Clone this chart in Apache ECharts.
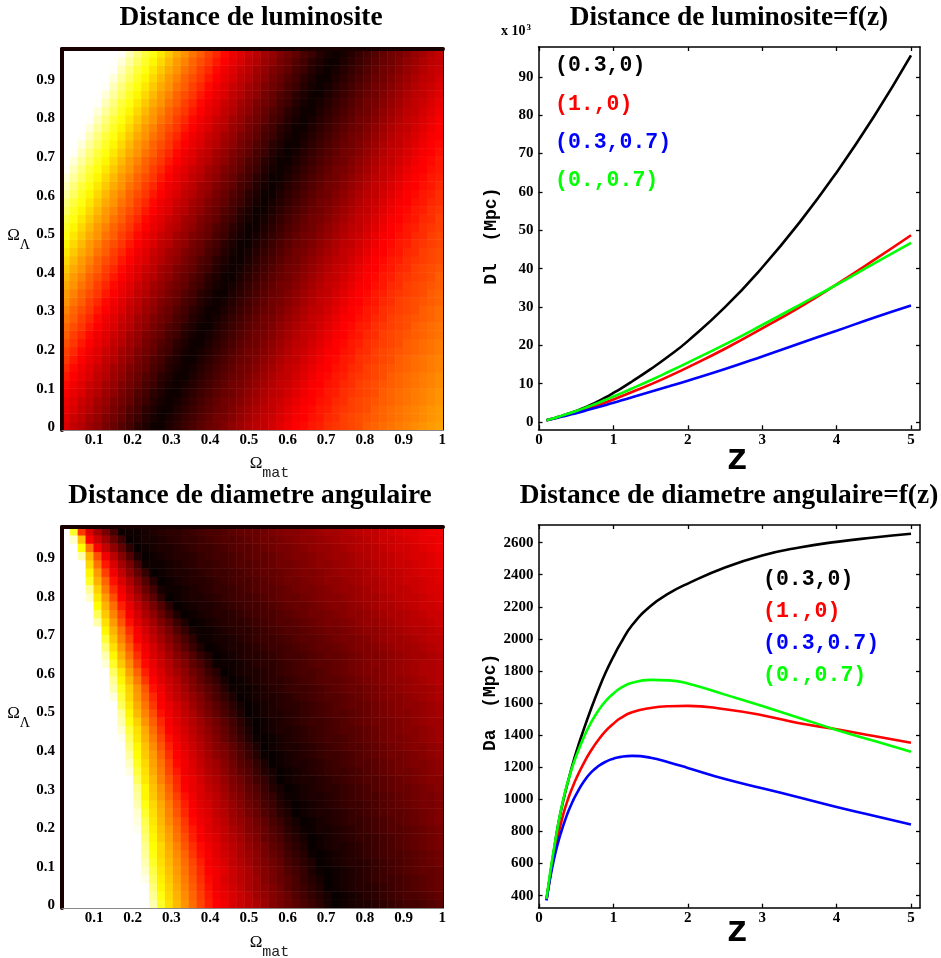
<!DOCTYPE html>
<html><head><meta charset="utf-8"><style>html,body{margin:0;background:#fff}#c{width:941px;height:958px}</style>
<script src="https://cdn.jsdelivr.net/npm/echarts@6/dist/echarts.min.js"></script></head><body><div id="c"></div>
<script>
// heat values, 0-99 on the hot colour scale; bottom row first
const lumGrid=[
[28,25,23,20,18,15,13,10,8,5,3,1,1,3,5,7,9,11,13,14,16,18,20,22,24,25,27,29,31,33,34,36,37,39,40,41,42,43,45,46,47,48,49,50,51,52,53,54],
[29,26,24,21,19,16,14,12,9,7,4,2,1,2,4,6,8,10,12,14,15,17,19,21,23,25,26,28,30,32,33,35,36,38,39,41,42,43,44,45,46,47,48,49,50,51,52,53],
[30,28,25,23,20,18,15,13,10,8,5,3,1,1,3,5,7,9,11,13,14,16,18,20,22,24,25,27,29,31,33,34,36,37,39,40,41,42,43,45,46,47,48,49,50,51,52,53],
[31,29,26,24,21,19,16,14,12,9,7,4,2,1,2,4,6,8,10,12,14,15,17,19,21,23,25,26,28,30,32,33,35,36,38,39,41,42,43,44,45,46,47,48,49,50,51,52],
[33,30,28,25,23,20,18,15,13,10,8,5,3,1,1,3,5,7,9,11,13,14,16,18,20,22,24,25,27,29,31,33,34,36,37,39,40,41,42,43,45,46,47,48,49,50,51,52],
[34,31,29,26,24,21,19,16,14,12,9,7,4,2,1,2,4,6,8,10,12,14,15,17,19,21,23,25,26,28,30,32,33,35,36,38,39,41,42,43,44,45,46,47,48,49,50,51],
[36,33,30,28,25,23,20,18,15,13,10,8,5,3,1,1,3,5,7,9,11,13,14,16,18,20,22,24,25,27,29,31,33,34,36,37,39,40,41,42,43,45,46,47,48,49,50,51],
[38,34,31,29,26,24,21,19,16,14,12,9,7,4,2,1,2,4,6,8,10,12,14,15,17,19,21,23,25,26,28,30,32,33,35,36,38,39,41,42,43,44,45,46,47,48,49,50],
[40,36,33,30,28,25,23,20,18,15,13,10,8,5,3,1,1,3,5,7,9,11,13,14,16,18,20,22,24,25,27,29,31,33,34,36,37,39,40,41,42,43,45,46,47,48,49,50],
[41,38,34,31,29,26,24,21,19,16,14,12,9,7,4,2,1,2,4,6,8,10,12,14,15,17,19,21,23,25,26,28,30,32,33,35,36,38,39,41,42,43,44,45,46,47,48,49],
[43,40,36,33,30,28,25,23,20,18,15,13,10,8,5,3,1,1,3,5,7,9,11,13,14,16,18,20,22,24,25,27,29,31,33,34,36,37,39,40,41,42,43,45,46,47,48,49],
[45,41,38,34,31,29,26,24,21,19,16,14,12,9,7,4,2,1,2,4,6,8,10,12,14,15,17,19,21,23,25,26,28,30,32,33,35,36,38,39,41,42,43,44,45,46,47,48],
[46,43,40,36,33,30,28,25,23,20,18,15,13,10,8,5,3,1,1,3,5,7,9,11,13,14,16,18,20,22,24,25,27,29,31,33,34,36,37,39,40,41,42,43,45,46,47,48],
[48,45,41,38,34,31,29,26,24,21,19,16,14,12,9,7,4,2,1,2,4,6,8,10,12,14,15,17,19,21,23,25,26,28,30,32,33,35,36,38,39,41,42,43,44,45,46,47],
[50,46,43,40,36,33,30,28,25,23,20,18,15,13,10,8,5,3,1,1,3,5,7,9,11,13,14,16,18,20,22,24,25,27,29,31,33,34,36,37,39,40,41,42,43,45,46,47],
[52,48,45,41,38,34,31,29,26,24,21,19,16,14,12,9,7,4,2,1,2,4,6,8,10,12,14,15,17,19,21,23,25,26,28,30,32,33,35,36,38,39,41,42,43,44,45,46],
[53,50,46,43,40,36,33,30,28,25,23,20,18,15,13,10,8,5,3,1,1,3,5,7,9,11,13,14,16,18,20,22,24,25,27,29,31,33,34,36,37,39,40,41,42,43,45,46],
[55,52,48,45,41,38,34,31,29,26,24,21,19,16,14,12,9,7,4,2,1,2,4,6,8,10,12,14,15,17,19,21,23,25,26,28,30,32,33,35,36,38,39,41,42,43,44,45],
[57,53,50,46,43,40,36,33,30,28,25,23,20,18,15,13,10,8,5,3,1,1,3,5,7,9,11,13,14,16,18,20,22,24,25,27,29,31,33,34,36,37,39,40,41,42,43,45],
[59,55,52,48,45,41,38,34,31,29,26,24,21,19,16,14,12,9,7,4,2,1,2,4,6,8,10,12,14,15,17,19,21,23,25,26,28,30,32,33,35,36,38,39,41,42,43,44],
[61,57,53,50,46,43,40,36,33,30,28,25,23,20,18,15,13,10,8,5,3,1,1,3,5,7,9,11,13,14,16,18,20,22,24,25,27,29,31,33,34,36,37,39,40,41,42,43],
[63,59,55,52,48,45,41,38,34,31,29,26,24,21,19,16,14,12,9,7,4,2,1,2,4,6,8,10,12,14,15,17,19,21,23,25,26,28,30,32,33,35,36,38,39,41,42,43],
[65,61,57,53,50,46,43,40,36,33,30,28,25,23,20,18,15,13,10,8,5,3,1,1,3,5,7,9,11,13,14,16,18,20,22,24,25,27,29,31,33,34,36,37,39,40,41,42],
[68,63,59,55,52,48,45,41,38,34,31,29,26,24,21,19,16,14,12,9,7,4,2,1,2,4,6,8,10,12,14,15,17,19,21,23,25,26,28,30,32,33,35,36,38,39,41,42],
[71,65,61,57,53,50,46,43,40,36,33,30,28,25,23,20,18,15,13,10,8,5,3,1,1,3,5,7,9,11,13,14,16,18,20,22,24,25,27,29,31,33,34,36,37,39,40,41],
[74,68,63,59,55,52,48,45,41,38,34,31,29,26,24,21,19,16,14,12,9,7,4,2,1,2,4,6,8,10,12,14,15,17,19,21,23,25,26,28,30,32,33,35,36,38,39,41],
[79,71,65,61,57,53,50,46,43,40,36,33,30,28,25,23,20,18,15,13,10,8,5,3,1,1,3,5,7,9,11,13,14,16,18,20,22,24,25,27,29,31,33,34,36,37,39,40],
[82,74,68,63,59,55,52,48,45,41,38,34,31,29,26,24,21,19,16,14,12,9,7,4,2,1,2,4,6,8,10,12,14,15,17,19,21,23,25,26,28,30,32,33,35,36,38,39],
[86,79,71,65,61,57,53,50,46,43,40,36,33,30,28,25,23,20,18,15,13,10,8,5,3,1,1,3,5,7,9,11,13,14,16,18,20,22,24,25,27,29,31,33,34,36,37,39],
[90,82,74,68,63,59,55,52,48,45,41,38,34,31,29,26,24,21,19,16,14,12,9,7,4,2,1,2,4,6,8,10,12,14,15,17,19,21,23,25,26,28,30,32,33,35,36,38],
[94,86,79,71,65,61,57,53,50,46,43,40,36,33,30,28,25,23,20,18,15,13,10,8,5,3,1,1,3,5,7,9,11,13,14,16,18,20,22,24,25,27,29,31,33,34,36,37],
[98,90,82,74,68,63,59,55,52,48,45,41,38,34,31,29,26,24,21,19,16,14,12,9,7,4,2,1,2,4,6,8,10,12,14,15,17,19,21,23,25,26,28,30,32,33,35,36],
[99,94,86,79,71,65,61,57,53,50,46,43,40,36,33,30,28,25,23,20,18,15,13,10,8,5,3,1,1,3,5,7,9,11,13,14,16,18,20,22,24,25,27,29,31,33,34,36],
[99,98,90,82,74,68,63,59,55,52,48,45,41,38,34,31,29,26,24,21,19,16,14,12,9,7,4,2,1,2,4,6,8,10,12,14,15,17,19,21,23,25,26,28,30,32,33,35],
[99,99,94,86,79,71,65,61,57,53,50,46,43,40,36,33,30,28,25,23,20,18,15,13,10,8,5,3,1,1,3,5,7,9,11,13,14,16,18,20,22,24,25,27,29,31,33,34],
[99,99,98,90,82,74,68,63,59,55,52,48,45,41,38,34,31,29,26,24,21,19,16,14,12,9,7,4,2,1,2,4,6,8,10,12,14,15,17,19,21,23,25,26,28,30,32,33],
[99,99,99,94,86,79,71,65,61,57,53,50,46,43,40,36,33,30,28,25,23,20,18,15,13,10,8,5,3,1,1,3,5,7,9,11,13,14,16,18,20,22,24,25,27,29,31,33],
[99,99,99,98,90,82,74,68,63,59,55,52,48,45,41,38,34,31,29,26,24,21,19,16,14,12,9,7,4,2,1,2,4,6,8,10,12,14,15,17,19,21,23,25,26,28,30,32],
[99,99,99,99,94,86,79,71,65,61,57,53,50,46,43,40,36,33,30,28,25,23,20,18,15,13,10,8,5,3,1,1,3,5,7,9,11,13,14,16,18,20,22,24,25,27,29,31],
[99,99,99,99,98,90,82,74,68,63,59,55,52,48,45,41,38,34,31,29,26,24,21,19,16,14,12,9,7,4,2,1,2,4,6,8,10,12,14,15,17,19,21,23,25,26,28,30],
[99,99,99,99,99,94,86,79,71,65,61,57,53,50,46,43,40,36,33,30,28,25,23,20,18,15,13,10,8,5,3,1,1,3,5,7,9,11,13,14,16,18,20,22,24,25,27,29],
[99,99,99,99,99,98,90,82,74,68,63,59,55,52,48,45,41,38,34,31,29,26,24,21,19,16,14,12,9,7,4,2,1,2,4,6,8,10,12,14,15,17,19,21,23,25,26,28],
[99,99,99,99,99,99,94,86,79,71,65,61,57,53,50,46,43,40,36,33,30,28,25,23,20,18,15,13,10,8,5,3,1,1,3,5,7,9,11,13,14,16,18,20,22,24,25,27],
[99,99,99,99,99,99,98,90,82,74,68,63,59,55,52,48,45,41,38,34,31,29,26,24,21,19,16,14,12,9,7,4,2,1,2,4,6,8,10,12,14,15,17,19,21,23,25,26],
[99,99,99,99,99,99,99,94,86,79,71,65,61,57,53,50,46,43,40,36,33,30,28,25,23,20,18,15,13,10,8,5,3,1,1,3,5,7,9,11,13,14,16,18,20,22,24,25],
[99,99,99,99,99,99,99,98,90,82,74,68,63,59,55,52,48,45,41,38,34,31,29,26,24,21,19,16,14,12,9,7,4,2,1,2,4,6,8,10,12,14,15,17,19,21,23,25]
];
const angGrid=[
[99,99,99,99,99,99,99,99,99,99,99,89,71,62,57,52,47,42,37,33,31,28,26,24,22,20,17,15,13,11,9,7,5,2,0,1,2,3,3,4,5,6,7,8,8,9,10,11],
[99,99,99,99,99,99,99,99,99,99,99,85,68,61,56,51,46,41,36,32,30,28,26,24,21,19,17,15,13,10,8,6,4,2,0,1,2,3,4,5,6,7,8,9,9,10,11,12],
[99,99,99,99,99,99,99,99,99,99,99,82,65,60,55,50,45,40,35,31,29,27,25,22,20,18,16,14,11,9,7,5,3,0,1,2,3,4,4,5,6,7,8,9,10,11,12,13],
[99,99,99,99,99,99,99,99,99,99,96,78,64,59,54,49,44,39,34,31,28,26,24,22,20,17,15,13,11,9,6,4,2,0,1,2,3,4,5,6,7,7,8,9,10,11,12,13],
[99,99,99,99,99,99,99,99,99,99,92,75,63,58,53,48,43,38,33,31,29,26,24,22,19,17,15,13,10,8,6,3,1,0,1,2,3,4,5,6,7,8,9,10,11,12,12,13],
[99,99,99,99,99,99,99,99,99,99,89,71,62,57,52,47,42,37,32,30,28,25,23,21,18,16,14,12,9,7,5,3,0,1,2,3,4,4,5,6,7,8,9,10,11,12,13,14],
[99,99,99,99,99,99,99,99,99,99,86,68,61,56,51,46,40,35,32,29,27,25,22,20,18,15,13,11,8,6,4,1,0,1,2,3,4,5,6,7,8,9,9,10,11,12,13,14],
[99,99,99,99,99,99,99,99,99,99,84,66,61,55,50,44,39,34,31,29,26,24,22,19,17,15,12,10,7,5,3,0,1,2,3,3,4,5,6,7,8,9,10,11,12,13,14,15],
[99,99,99,99,99,99,99,99,99,99,81,65,59,54,48,43,37,32,30,28,25,23,21,18,16,13,11,9,6,4,2,0,1,2,3,4,5,6,6,7,8,9,10,11,12,13,14,15],
[99,99,99,99,99,99,99,99,99,97,78,64,58,53,47,41,36,32,29,27,25,22,20,17,15,13,10,8,5,3,1,1,2,2,3,4,5,6,7,8,9,10,10,11,12,13,14,15],
[99,99,99,99,99,99,99,99,99,95,76,63,57,51,46,40,34,31,29,26,24,21,19,17,14,12,9,7,4,2,0,1,2,3,4,5,6,6,7,8,9,10,11,12,13,14,15,16],
[99,99,99,99,99,99,99,99,99,93,72,62,56,50,44,38,33,30,28,25,23,20,18,15,13,10,8,5,3,0,1,2,3,3,4,5,6,7,8,9,10,11,11,12,13,14,15,16],
[99,99,99,99,99,99,99,99,99,89,68,61,55,49,43,37,32,29,27,24,22,19,17,14,12,9,7,4,2,0,1,2,3,4,5,6,7,7,8,9,10,11,12,13,14,15,15,16],
[99,99,99,99,99,99,99,99,99,86,65,59,53,47,41,35,31,28,26,24,21,18,16,13,11,8,6,3,1,1,2,3,3,4,5,6,7,8,9,9,10,11,12,13,14,15,15,16],
[99,99,99,99,99,99,99,99,99,84,65,58,52,46,39,33,30,28,25,23,20,17,15,12,10,7,4,2,0,1,2,3,4,5,5,6,7,8,9,10,11,12,13,13,14,15,16,17],
[99,99,99,99,99,99,99,99,99,78,63,57,50,44,38,32,30,27,24,22,19,16,14,11,8,6,3,0,1,2,3,3,4,5,6,7,8,9,10,10,11,12,13,14,15,16,17,17],
[99,99,99,99,99,99,99,99,95,74,62,55,49,42,36,31,29,26,23,21,18,15,12,10,7,4,2,0,1,2,3,4,5,6,7,7,8,9,10,11,12,13,14,14,15,16,17,18],
[99,99,99,99,99,99,99,99,91,70,61,54,48,41,34,31,28,25,22,20,17,14,11,9,6,3,0,1,2,3,3,4,5,6,7,8,9,10,10,11,12,13,14,15,16,16,17,18],
[99,99,99,99,99,99,99,99,87,66,59,53,46,39,33,30,27,24,21,18,16,13,10,7,4,1,0,1,2,3,4,5,6,7,7,8,9,10,11,12,13,14,14,15,16,17,18,19],
[99,99,99,99,99,99,99,99,82,65,58,51,44,37,32,29,26,23,20,17,15,12,9,6,3,0,1,2,3,3,4,5,6,7,8,9,10,10,11,12,13,14,15,16,17,17,18,19],
[99,99,99,99,99,99,99,97,78,63,56,49,42,35,31,28,25,22,19,16,13,10,7,4,1,0,1,2,3,4,5,6,7,8,8,9,10,11,12,13,14,15,15,16,17,18,19,20],
[99,99,99,99,99,99,99,93,74,62,55,47,40,33,30,27,24,21,18,15,12,9,6,3,0,1,2,3,3,4,5,6,7,8,9,10,10,11,12,13,14,15,16,17,17,18,19,20],
[99,99,99,99,99,99,99,89,68,60,52,45,38,32,29,26,23,20,17,14,11,8,5,2,0,1,2,3,4,5,6,7,7,8,9,10,11,12,13,14,14,15,16,17,18,19,20,20],
[99,99,99,99,99,99,99,86,65,57,50,43,35,31,28,25,22,18,15,12,9,6,3,0,1,2,3,3,4,5,6,7,8,9,10,10,11,12,13,14,15,16,17,17,18,19,20,21],
[99,99,99,99,99,99,99,78,63,55,48,40,33,30,27,24,20,17,14,11,8,5,2,0,1,2,3,4,5,5,6,7,8,9,10,11,12,12,13,14,15,16,17,18,18,19,20,21],
[99,99,99,99,99,99,95,74,61,53,46,38,32,28,25,22,19,16,12,9,6,3,0,1,2,3,3,4,5,6,7,8,9,10,10,11,12,13,14,15,16,17,17,18,19,20,21,22],
[99,99,99,99,99,99,89,70,60,52,44,35,31,27,24,21,17,14,11,8,4,1,1,1,2,3,4,5,6,7,7,8,9,10,11,12,13,13,14,15,16,17,18,19,20,20,21,22],
[99,99,99,99,99,99,85,65,57,49,40,33,29,26,23,19,16,12,9,6,2,0,1,2,3,4,5,5,6,7,8,9,10,11,11,12,13,14,15,16,17,18,18,19,20,21,22,23],
[99,99,99,99,99,99,79,63,54,46,37,31,28,24,21,18,14,11,7,4,0,1,2,3,3,4,5,6,7,8,9,9,10,11,12,13,14,15,16,16,17,18,19,20,21,22,22,23],
[99,99,99,99,99,94,71,59,51,42,34,30,26,23,19,16,12,9,5,1,1,1,2,3,4,5,5,6,7,8,9,10,11,11,12,13,14,15,16,17,17,18,19,20,21,22,22,23],
[99,99,99,99,99,89,65,56,48,39,32,28,25,21,17,14,10,6,3,0,1,2,3,4,4,5,6,7,8,8,9,10,11,12,12,13,14,15,16,16,17,18,19,20,21,21,22,23],
[99,99,99,99,99,81,62,53,45,36,31,27,23,19,15,11,7,3,0,1,2,3,3,4,5,6,7,7,8,9,10,11,12,12,13,14,15,16,16,17,18,19,20,20,21,22,23,24],
[99,99,99,99,99,73,59,50,42,33,29,25,21,17,13,9,5,1,1,2,2,3,4,5,6,7,7,8,9,10,11,11,12,13,14,15,15,16,17,18,19,20,20,21,22,23,24,24],
[99,99,99,99,99,65,56,48,39,32,27,23,19,15,10,6,2,1,1,2,3,4,5,5,6,7,8,9,10,10,11,12,13,14,14,15,16,17,18,18,19,20,21,22,23,23,24,25],
[99,99,99,99,88,62,53,44,35,29,25,21,16,12,7,3,0,1,2,3,4,5,5,6,7,8,9,10,10,11,12,13,14,15,15,16,17,18,19,19,20,21,22,23,24,24,25,26],
[99,99,99,99,77,59,50,41,32,27,22,18,13,8,3,0,1,2,3,4,4,5,6,7,8,9,9,10,11,12,13,14,14,15,16,17,18,18,19,20,21,22,22,23,24,25,26,26],
[99,99,99,99,66,56,47,37,30,25,20,15,10,5,0,1,2,3,3,4,5,6,7,8,8,9,10,11,12,13,13,14,15,16,17,17,18,19,20,21,22,22,23,24,25,26,26,27],
[99,99,99,92,63,53,43,33,27,22,16,11,5,0,1,2,3,3,4,5,6,7,8,8,9,10,11,12,13,13,14,15,16,17,17,18,19,20,21,21,22,23,24,25,25,26,27,28],
[99,99,99,85,60,49,39,31,25,19,13,8,2,1,1,2,3,4,5,6,6,7,8,9,10,11,11,12,13,14,15,15,16,17,18,19,19,20,21,22,23,24,24,25,26,27,28,28],
[99,99,99,71,56,46,35,28,22,16,10,4,0,1,2,3,4,4,5,6,7,8,9,9,10,11,12,13,14,14,15,16,17,18,18,19,20,21,22,22,23,24,25,26,26,27,28,29],
[99,99,99,65,53,41,31,25,18,12,6,0,1,2,3,3,4,5,6,7,7,8,9,10,11,12,12,13,14,15,16,16,17,18,19,20,20,21,22,23,24,24,25,26,27,28,28,29],
[99,99,99,61,48,36,28,21,15,8,1,1,1,2,3,4,5,6,6,7,8,9,10,10,11,12,13,14,14,15,16,17,18,18,19,20,21,22,22,23,24,25,26,26,27,28,29,30],
[99,99,88,57,43,31,24,17,10,3,0,1,2,3,4,4,5,6,7,8,8,9,10,11,12,12,13,14,15,16,16,17,18,19,20,20,21,22,23,24,24,25,26,27,28,28,29,30],
[99,99,66,48,32,25,18,12,5,0,1,2,3,3,4,5,6,7,7,8,9,10,11,11,12,13,14,15,15,16,17,18,19,19,20,21,22,23,23,24,25,26,27,27,28,29,30,31],
[99,92,58,33,26,20,13,7,0,1,2,2,3,4,5,6,6,7,8,9,10,10,11,12,13,14,14,15,16,17,18,18,19,20,21,22,22,23,24,25,26,26,27,28,29,30,30,31],
[99,72,40,28,21,15,8,1,1,1,2,3,4,5,5,6,7,8,9,9,10,11,12,13,13,14,15,16,17,17,18,19,20,21,21,22,23,24,25,25,26,27,28,29,29,30,31,31]
];
// curves
const zValues=[0.1,0.15,0.2,0.25,0.3,0.35,0.4,0.45,0.5,0.6,0.7,0.8,0.9,1,1.1,1.25,1.5,1.75,2,2.5,3,3.5,4,4.5,5];
const dlBlack=[0.45,0.70,0.98,1.29,1.59,1.90,2.21,2.55,2.91,3.67,4.52,5.46,6.48,7.58,8.71,10.56,13.78,17.26,21.1,29.95,40.3,52,65.1,79.6,95.6];
const dlRed=[0.45,0.69,0.94,1.20,1.45,1.72,1.99,2.26,2.54,3.14,3.77,4.45,5.15,5.89,6.65,7.81,9.81,11.96,14.25,19.1,24.4,29.9,35.9,42.2,48.7];
const dlBlue=[0.45,0.67,0.90,1.125,1.35,1.59,1.83,2.07,2.32,2.84,3.38,3.91,4.46,5.02,5.58,6.43,7.88,9.3,10.76,13.8,17.1,20.5,23.8,27.2,30.4];
const dlGreen=[0.46,0.72,0.99,1.29,1.60,1.90,2.22,2.53,2.86,3.55,4.28,5.04,5.83,6.64,7.47,8.74,10.9,13.17,15.5,20.25,25.3,30.5,35.8,41.3,46.7];
const daBlack=[375,530,680,825,940,1040,1130,1215,1295,1435,1565,1685,1795,1890,1975,2085,2205,2285,2345,2445,2520,2570,2605,2632,2655];
const daRed=[375,520,650,765,860,945,1015,1075,1130,1225,1305,1372,1428,1472,1508,1543,1570,1581,1583,1562,1525,1475,1437,1395,1353];
const daBlue=[370,510,625,720,800,870,932,985,1032,1110,1168,1208,1236,1254,1265,1271,1260,1230,1196,1127,1070,1012,953,898,843];
const daGreen=[380,545,690,825,945,1045,1130,1205,1270,1385,1480,1555,1615,1660,1695,1727,1745,1742,1722,1653,1582,1508,1433,1365,1297];
const curveNames=['(0.3,0)','(1.,0)','(0.3,0.7)','(0.,0.7)'];
const curveColors=['#000000','#ff0000','#0000ff','#00ff00'];
const omegaTicks=[0.1,0.2,0.3,0.4,0.5,0.6,0.7,0.8,0.9,1];
const lambdaTicks=[0,0.1,0.2,0.3,0.4,0.5,0.6,0.7,0.8,0.9];
const zTicks=[0,1,2,3,4,5];
const dlTicks=[0,10,20,30,40,50,60,70,80,90];
const daTicks=[400,600,800,1000,1200,1400,1600,1800,2000,2200,2400,2600];

const SER='"Liberation Serif",serif',MONO='"Liberation Mono",monospace';
const lab={fontFamily:SER,fontWeight:'bold',fontSize:15,color:'#000'};
const cells=g=>g.flatMap((r,y)=>r.map((v,x)=>[x,y,v]));
const idx=n=>Array.from({length:n},(_,i)=>i);
const rich={o:{fontFamily:SER,fontSize:17,color:'#000',padding:[0,0,8,0]},
 s:{fontFamily:MONO,fontSize:15,color:'#222',padding:[12,0,0,0]},
 l:{fontFamily:SER,fontSize:14,color:'#000',padding:[12,0,0,0]}};
const G=[{left:62,top:49,width:381,height:381},{left:538.5,top:47,width:381.5,height:382.3},
 {left:62,top:527,width:381,height:381},{left:538.5,top:525,width:381.5,height:382.7}].map(g=>({...g,outerBoundsMode:'none',containLabel:false}));
const thick={show:true,onZero:false,lineStyle:{color:'#180000',width:4}};
const off={show:false};
const xAxis=[],yAxis=[],series=[];
function heat(gi,grid,yMin,yMax,matGap){
 const xi=xAxis.length,yi=yAxis.length;
 xAxis.push({gridIndex:gi,type:'category',position:'top',z:5,data:idx(grid[0].length),axisLine:thick,axisTick:off,axisLabel:off,splitLine:off});
 xAxis.push({gridIndex:gi,type:'value',position:'bottom',z:5,min:0.0173,max:1.0018,splitLine:off,axisTick:off,
  axisLine:{show:true,onZero:false,lineStyle:{color:'#888',width:1}},
  axisLabel:{...lab,margin:3,customValues:omegaTicks,formatter:v=>String(v)},
  name:'{o|Ω}{s|mat}',nameLocation:'middle',nameGap:matGap,nameTextStyle:{rich,padding:[0,0,0,34]}});
 yAxis.push({gridIndex:gi,type:'category',position:'left',z:5,data:idx(grid.length),axisLine:thick,axisTick:off,axisLabel:off,splitLine:off});
 yAxis.push({gridIndex:gi,type:'value',position:'left',min:yMin,max:yMax,splitLine:off,axisTick:off,axisLine:off,
  axisLabel:{...lab,margin:7,customValues:lambdaTicks,formatter:v=>String(v)},
  name:'{o|Ω}{l|Λ}',nameLocation:'middle',nameRotate:0,nameGap:32,nameTextStyle:{rich}});
 yAxis.push({gridIndex:gi,type:'value',position:'right',z:5,min:0,max:1,splitLine:off,axisTick:off,axisLabel:off,
  axisLine:{show:true,onZero:false,lineStyle:{color:'#000',width:1}}});
 series.push({type:'heatmap',xAxisIndex:xi,yAxisIndex:yi,data:cells(grid),progressive:0,animation:false,silent:true});
}
function lines(gi,yMin,yMax,ticks,name,namePad,zGap,sets){
 const xi=xAxis.length,yi=yAxis.length;
 const tick={show:true,inside:true,length:4,lineStyle:{color:'#000',width:1.3}};
 const line={show:true,onZero:false,lineStyle:{color:'#000',width:1.5}};
 xAxis.push({gridIndex:gi,type:'value',position:'bottom',min:-0.007,max:5.121,splitLine:off,axisLine:line,
  axisTick:{...tick,customValues:zTicks},axisLabel:{...lab,margin:3,customValues:zTicks,formatter:v=>String(v)},
  name:'z',nameLocation:'middle',nameGap:zGap,nameMoveOverlap:false,nameTextStyle:{fontFamily:MONO,fontWeight:'bold',fontSize:37,color:'#000',padding:[0,0,0,16]}});
 xAxis.push({gridIndex:gi,type:'value',position:'top',min:-0.007,max:5.121,splitLine:off,axisLine:line,
  axisTick:{...tick,customValues:zTicks},axisLabel:off});
 yAxis.push({gridIndex:gi,type:'value',position:'left',min:yMin,max:yMax,splitLine:off,axisLine:line,
  axisTick:{...tick,customValues:ticks},axisLabel:{...lab,margin:5,customValues:ticks,formatter:v=>String(v)},
  name,nameLocation:'middle',nameGap:38,nameTextStyle:{fontFamily:MONO,fontWeight:'bold',fontSize:18,color:'#000',padding:[0,0,0,namePad]}});
 yAxis.push({gridIndex:gi,type:'value',position:'right',min:yMin,max:yMax,splitLine:off,axisLine:line,
  axisTick:{...tick,customValues:ticks},axisLabel:off});
 sets.forEach((d,i)=>series.push({type:'line',name:curveNames[i],xAxisIndex:xi,yAxisIndex:yi,showSymbol:false,smooth:0.5,
  lineStyle:{color:curveColors[i],width:2.6},itemStyle:{color:curveColors[i]},animation:false,silent:true,
  data:zValues.map((z,k)=>[z,d[k]])}));
}
heat(0,lumGrid,-0.007,0.98,24);
lines(1,-1.9,97.8,dlTicks,'Dl  (Mpc)',4,12,[dlBlack,dlRed,dlBlue,dlGreen]);
heat(2,angGrid,-0.0062,0.9808,25);
lines(3,325.2,2710,daTicks,'Da  (Mpc)',28,5,[daBlack,daRed,daBlue,daGreen]);
const legendData=curveNames.map((n,i)=>({name:n,icon:'none',textStyle:{color:curveColors[i]}}));
const legend=(left,top,gap)=>({orient:'vertical',left,top,itemWidth:0,itemHeight:20,itemGap:gap,selectedMode:false,data:legendData,
  textStyle:{fontFamily:MONO,fontWeight:'bold',fontSize:21.5}});
const title=(text,x,top)=>({text,left:x,top,textAlign:'center',padding:0,textStyle:{fontFamily:SER,fontWeight:'bold',fontSize:27.4,color:'#000'}});
echarts.init(document.getElementById('c'),null,{renderer:'canvas'}).setOption({
 backgroundColor:'#fff',animation:false,
 title:[title('Distance de luminosite',251,4),title('Distance de luminosite=f(z)',729,4),
  title('Distance de diametre angulaire',250,482),title('Distance de diametre angulaire=f(z)',729,482)],
 grid:G,xAxis,yAxis,series,
 visualMap:{show:false,type:'continuous',min:0,max:99,seriesIndex:[0,5],dimension:2,inRange:{color:['#080000','#ff0000','#ffff00','#ffffff']}},
 legend:[legend(545,50,16.3),legend(753,564,10)],
 graphic:[{type:'text',left:501,top:23,style:{text:'x 10{u|3}',fontFamily:SER,fontWeight:'bold',fontSize:14,fill:'#000',
  rich:{u:{fontFamily:SER,fontWeight:'bold',fontSize:9,padding:[0,0,8,1]}}}}]
});
</script></body></html>
